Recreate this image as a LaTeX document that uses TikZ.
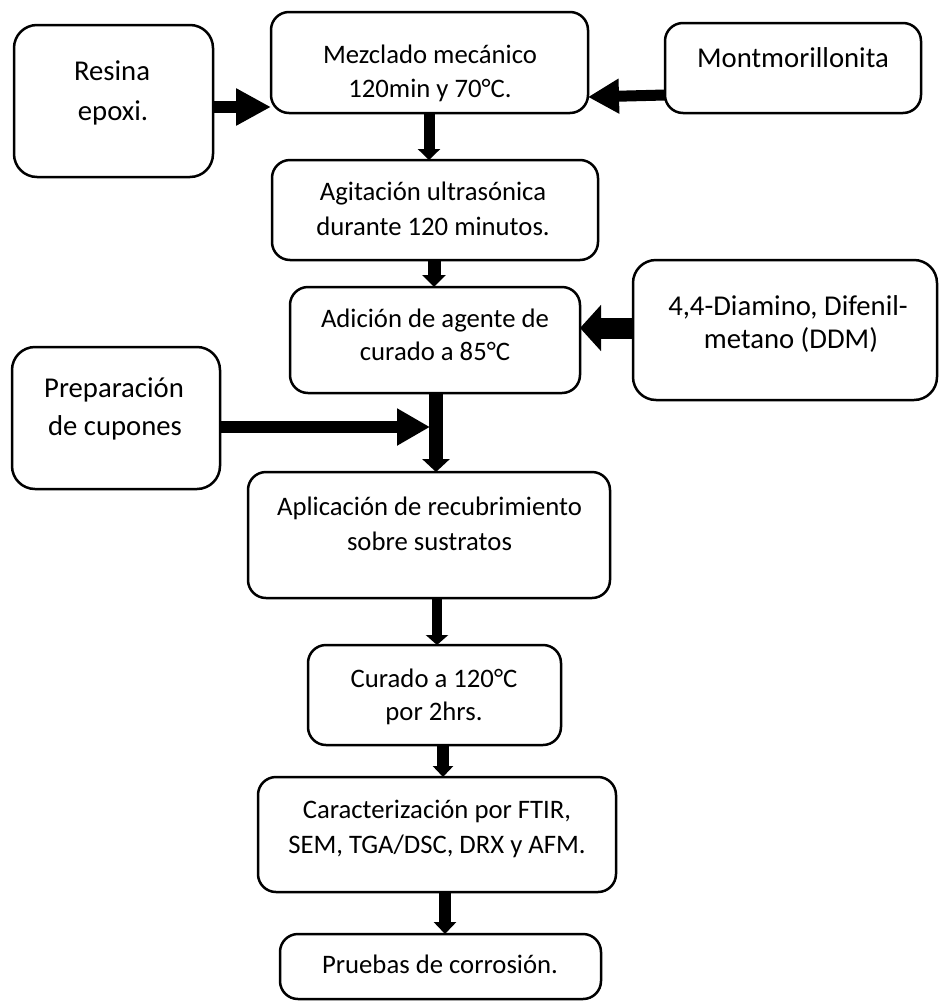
\documentclass[tikz,border=0pt]{standalone}
\usepackage{fontspec}
\setmainfont{Carlito}
\usetikzlibrary{arrows.meta}
\begin{document}
\begin{tikzpicture}[x=1pt,y=-1pt,
  box/.style={draw, line width=2.5pt, rounded corners=18pt, inner sep=0pt, outer sep=0pt},
  bigbox/.style={box, rounded corners=23pt},
  txt/.style={inner sep=0pt, anchor=base, font=\fontsize{26.7}{32}\selectfont},
  txtb/.style={inner sep=0pt, anchor=base, font=\fontsize{28.7}{34}\selectfont},
  blk/.style n args={3}{line width=#1, -{Triangle[width=#2,length=#3]}}]
\fill[white] (0,0) rectangle (938,1002);
\useasboundingbox (0,0) rectangle (938,1002);
% boxes
\node[bigbox, minimum width=199pt, minimum height=152pt] (resina) at (113.5,101) {};
\node[box, minimum width=317pt, minimum height=101pt] (mezcla) at (429.5,62.5) {};
\node[box, minimum width=256pt, minimum height=90pt] (montmo) at (793,68) {};
\node[box, minimum width=326pt, minimum height=100pt] (agita) at (435,210) {};
\node[box, minimum width=290pt, minimum height=106pt] (adicion) at (435,340) {};
\node[bigbox, minimum width=304pt, minimum height=140pt] (ddm) at (785,330) {};
\node[bigbox, minimum width=208pt, minimum height=142pt] (prep) at (116,418) {};
\node[box, minimum width=362pt, minimum height=126pt] (aplic) at (429,535) {};
\node[box, minimum width=253pt, minimum height=100pt] (curado) at (434.5,695) {};
\node[box, minimum width=358pt, minimum height=115pt] (carac) at (437,834.5) {};
\node[box, minimum width=321pt, minimum height=65pt] (pruebas) at (440.5,966.5) {};
% texts
\node[txtb] (resinaA) at (112,80) {Resina};
\node[txtb] (resinaB) at (113,120) {epoxi.};
\node[txt] (mezclaA) at (430,63) {Mezclado mecánico};
\node[txt] (mezclaB) at (430,97) {120min y 70°C.};
\node[txtb] (montmoA) at (793,67) {Montmorillonita};
\node[txt] (agitaA) at (433,200) {Agitación ultrasónica};
\node[txt] (agitaB) at (433,235) {durante 120 minutos.};
\node[txt] (adicionA) at (435,327) {Adición de agente de};
\node[txt] (adicionB) at (435,360) {curado a 85°C};
\node[txtb] (ddmA) at (788,315) {4,4-Diamino, Difenil-};
\node[txtb] (ddmB) at (791,348) {metano (DDM)};
\node[txtb] (prepA) at (114,397) {Preparación};
\node[txtb] (prepB) at (115,435) {de cupones};
\node[txt] (aplicA) at (429.5,515) {Aplicación de recubrimiento};
\node[txt] (aplicB) at (429.5,550) {sobre sustratos};
\node[txt] (curadoA) at (434,687) {Curado a 120°C};
\node[txt] (curadoB) at (434,720) {por 2hrs.};
\node[txt] (caracA) at (437,818) {Caracterización por FTIR,};
\node[txt] (caracB) at (437,853) {SEM, TGA/DSC, DRX y AFM.};
\node[txt] (pruebasA) at (440,973) {Pruebas de corrosión.};
% connectors
\coordinate (join) at (430,427);
\draw[blk={12pt}{35pt}{35pt}] ([yshift=-6pt]resina.east) -- ([yshift=-44.5pt]mezcla.west);
\draw[blk={11pt}{33pt}{31pt}] ([yshift=-27pt]montmo.west) -- ([yshift=-34.5pt]mezcla.east);
\draw[blk={11pt}{22pt}{11pt}] ([xshift=-0.5pt]mezcla.south) -- ([xshift=-6pt]agita.north);
\draw[blk={13pt}{23pt}{12pt}] ([xshift=-1pt]agita.south) -- ([xshift=-1pt]adicion.north);
\draw[blk={21pt}{45pt}{21pt}] ([yshift=2pt]ddm.west) -- ([yshift=12pt]adicion.east);
\draw[blk={14pt}{27pt}{13pt}] ([xshift=1pt]adicion.south) -- ([xshift=7pt]aplic.north);
\draw[blk={12pt}{35pt}{33pt}] ([yshift=-9pt]prep.east) -- (join);
\draw[blk={10pt}{22pt}{10pt}] ([xshift=8pt]aplic.south) -- ([xshift=2.5pt]curado.north);
\draw[blk={12pt}{20pt}{11pt}] ([xshift=8.5pt]curado.south) -- ([xshift=6pt]carac.north);
\draw[blk={12pt}{22pt}{12pt}] ([xshift=8pt]carac.south) -- ([xshift=4.5pt]pruebas.north);
\end{tikzpicture}
\end{document}
